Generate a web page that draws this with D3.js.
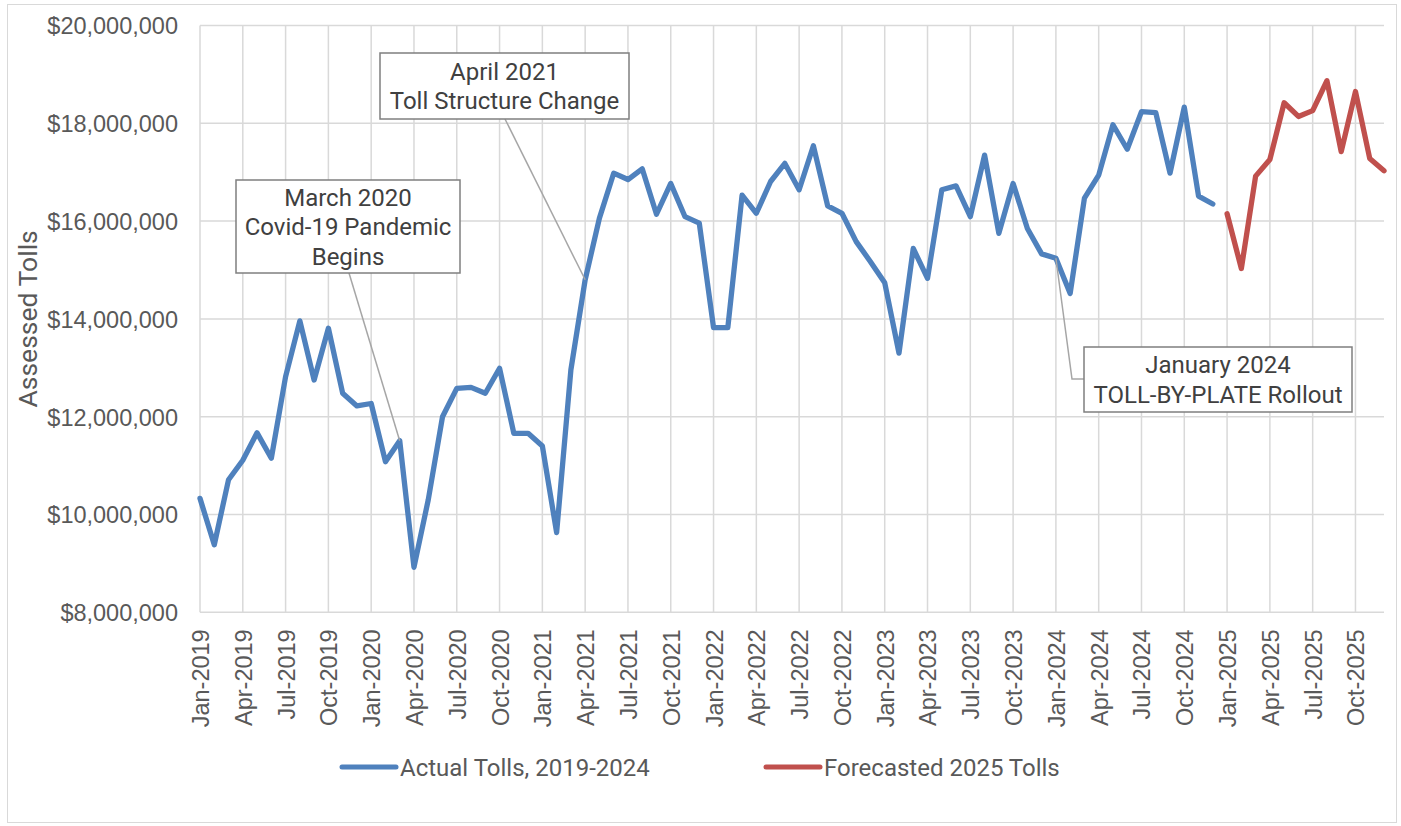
<!DOCTYPE html>
<html>
<head>
<meta charset="utf-8">
<script src="https://cdn.jsdelivr.net/npm/d3@7"></script>
<style>
	html, body { margin: 0; padding: 0; background: #fff; }
	svg { display: block; font-family: Roboto, 'Noto Sans', sans-serif; }
</style>
</head>
<body>
<div id="chart"></div>
<script>
	const monthNames = ['Jan', 'Feb', 'Mar', 'Apr', 'May', 'Jun', 'Jul', 'Aug', 'Sep', 'Oct', 'Nov', 'Dec']
	const years = [2019, 2020, 2021, 2022, 2023, 2024, 2025]
	const months = years.flatMap((y) => monthNames.map((m) => `${m}-${y}`))

	// monthly assessed tolls, Jan-2019 .. Dec-2024
	const actualTolls = [
		10330000, 9380000, 10710000, 11110000, 11670000, 11150000, 12820000, 13960000, 12750000, 13810000, 12480000, 12220000,
		12270000, 11080000, 11510000, 8920000, 10300000, 12000000, 12580000, 12600000, 12480000, 12990000, 11660000, 11660000,
		11400000, 9630000, 12960000, 14800000, 16060000, 16980000, 16850000, 17070000, 16140000, 16770000, 16090000, 15960000,
		13820000, 13820000, 16530000, 16160000, 16810000, 17180000, 16640000, 17540000, 16310000, 16160000, 15580000, 15170000,
		14740000, 13300000, 15440000, 14830000, 16640000, 16720000, 16090000, 17350000, 15750000, 16770000, 15850000, 15330000,
		15240000, 14520000, 16470000, 16940000, 17970000, 17470000, 18240000, 18220000, 16980000, 18330000, 16510000, 16350000
	]
	// Jan-2025 .. Dec-2025
	const forecastTolls = [
		16150000, 15030000, 16920000, 17260000, 18420000, 18140000, 18260000, 18870000, 17420000, 18650000, 17280000, 17030000
	]

	const yTicks = [8000000, 10000000, 12000000, 14000000, 16000000, 18000000, 20000000]
	const xTickLabels = months.filter((_, i) => i % 3 === 0)

	const seriesNames = ['Actual Tolls, 2019-2024', 'Forecasted 2025 Tolls']
	const seriesColors = ['#4f81bd', '#c0504d']

	const noteMonths = ['Mar-2020', 'Apr-2021', 'Jan-2024']
	const noteLines = [
		['March 2020', 'Covid-19 Pandemic', 'Begins'],
		['April 2021', 'Toll Structure Change'],
		['January 2024', 'TOLL-BY-PLATE Rollout']
	]

	const width = 1401
	const height = 826
	const plot = { left: 200, top: 25.5, right: 1384, bottom: 612.3 }

	// callout boxes [x, y, w, h] and leader line start
	const noteBoxes = [[236, 180, 224, 93], [380, 53, 249, 66], [1084, 347, 268, 65]]
	const leaderStarts = [[349, 273], [505, 119], [1084, 379]]

	const textColor = '#595959'
	const gridColor = '#d9d9d9'

	const svg = d3.select('#chart')
		.append('svg')
		.attr('width', width)
		.attr('height', height)

	svg.append('rect')
		.attr('x', 7.5)
		.attr('y', 4.5)
		.attr('width', 1389)
		.attr('height', 818)
		.attr('fill', '#fff')
		.attr('stroke', gridColor)
		.attr('stroke-width', 1)

	const x = d3.scalePoint()
		.domain(months)
		.range([plot.left, plot.right])

	const y = d3.scaleLinear()
		.domain([8000000, 20000000])
		.range([plot.bottom, plot.top])

	// gridlines
	svg.append('g')
		.attr('class', 'hgrid')
		.selectAll('line')
		.data(yTicks)
		.join('line')
		.attr('x1', plot.left)
		.attr('x2', plot.right)
		.attr('y1', (d) => y(d))
		.attr('y2', (d) => y(d))
		.attr('stroke', gridColor)
		.attr('stroke-width', 1.5)

	svg.append('g')
		.attr('class', 'vgrid')
		.selectAll('line')
		.data(xTickLabels)
		.join('line')
		.attr('x1', (d) => x(d))
		.attr('x2', (d) => x(d))
		.attr('y1', plot.top)
		.attr('y2', plot.bottom)
		.attr('stroke', gridColor)
		.attr('stroke-width', 1.5)

	// y axis
	const yAxis = svg.append('g')
		.attr('transform', `translate(${plot.left}, 0)`)
		.call(d3.axisLeft(y).tickValues(yTicks).tickSize(0).tickPadding(22)
			.tickFormat((d) => '$' + d3.format(',')(d)))
	yAxis.select('.domain').remove()
	yAxis.selectAll('text')
		.attr('fill', textColor)
		.style('font-size', '23.5px')
		.attr('dy', '0.36em')

	// x axis
	const xAxis = svg.append('g')
		.attr('transform', `translate(0, ${plot.bottom})`)
		.call(d3.axisBottom(x).tickValues(xTickLabels).tickSize(0))
	xAxis.select('.domain').remove()
	xAxis.selectAll('text')
		.attr('fill', textColor)
		.style('font-size', '23.5px')
		.attr('text-anchor', 'end')
		.attr('transform', 'rotate(-90)')
		.attr('x', -17)
		.attr('y', 0)
		.attr('dy', '0.36em')

	svg.append('text')
		.text('Assessed Tolls')
		.attr('transform', `translate(37, ${(plot.top + plot.bottom) / 2}) rotate(-90)`)
		.attr('text-anchor', 'middle')
		.attr('fill', textColor)
		.style('font-size', '26.5px')

	// series
	const series = [
		actualTolls.map((v, i) => ({ m: months[i], v })),
		forecastTolls.map((v, i) => ({ m: months[actualTolls.length + i], v }))
	]
	const line = d3.line()
		.x((d) => x(d.m))
		.y((d) => y(d.v))

	svg.append('g')
		.attr('class', 'lines')
		.selectAll('path')
		.data(series)
		.join('path')
		.attr('d', line)
		.attr('fill', 'none')
		.attr('stroke', (_, i) => seriesColors[i])
		.attr('stroke-width', 5.3)
		.attr('stroke-linejoin', 'round')
		.attr('stroke-linecap', 'round')

	// callouts
	const valueAt = (m) => {
		const i = months.indexOf(m)
		return i < actualTolls.length ? actualTolls[i] : forecastTolls[i - actualTolls.length]
	}

	const notes = svg.append('g').attr('class', 'notes')
	noteMonths.forEach((m, k) => {
		const [sx, sy] = leaderStarts[k]
		const px = x(m)
		const py = y(valueAt(m))
		const pts = k === 2 ? [[px, py], [sx - 12, sy], [sx, sy]] : [[sx, sy], [px, py]]
		notes.append('path')
			.attr('d', d3.line()(pts))
			.attr('fill', 'none')
			.attr('stroke', '#a6a6a6')
			.attr('stroke-width', 1.5)

		const [bx, by, bw, bh] = noteBoxes[k]
		notes.append('rect')
			.attr('x', bx)
			.attr('y', by)
			.attr('width', bw)
			.attr('height', bh)
			.attr('fill', '#fff')
			.attr('stroke', '#7f7f7f')
			.attr('stroke-width', 1.5)

		const lh = 29.5
		const y0 = by + bh / 2 - (noteLines[k].length - 1) * lh / 2
		notes.append('g')
			.selectAll('text')
			.data(noteLines[k])
			.join('text')
			.text((d) => d)
			.attr('x', bx + bw / 2)
			.attr('y', (_, i) => y0 + i * lh)
			.attr('dy', '0.36em')
			.attr('text-anchor', 'middle')
			.attr('fill', '#404040')
			.style('font-size', '24px')
	})

	// legend
	const legendX = [342, 766]
	const legend = svg.append('g').attr('class', 'legend')
		.selectAll('g')
		.data(seriesNames)
		.join('g')
		.attr('transform', (_, i) => `translate(${legendX[i]}, 767)`)
	legend.append('line')
		.attr('x1', 0)
		.attr('x2', 54)
		.attr('stroke', (_, i) => seriesColors[i])
		.attr('stroke-width', 5)
		.attr('stroke-linecap', 'round')
	legend.append('text')
		.text((d) => d)
		.attr('x', 58)
		.attr('dy', '0.36em')
		.attr('fill', textColor)
		.style('font-size', '24px')
</script>
</body>
</html>
